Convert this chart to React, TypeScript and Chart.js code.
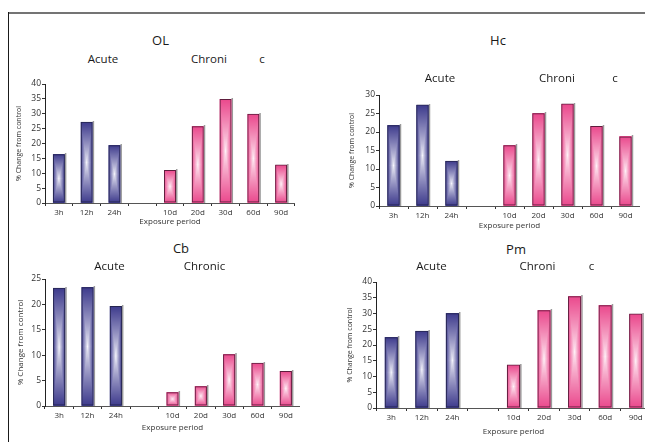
import React, { useEffect, useRef } from 'react';
import { Chart, registerables } from 'chart.js';
Chart.register(...registerables);

// ---- data ----
const acuteLabels = ['3h', '12h', '24h'];
const chronicLabels = ['10d', '20d', '30d', '60d', '90d'];

const olAcute = [16.4, 27.3, 19.4];
const olChronic = [11.1, 25.8, 35.0, 30.0, 12.9];
const hcAcute = [21.8, 27.4, 12.2];
const hcChronic = [16.4, 25.1, 27.7, 21.6, 18.8];
const cbAcute = [23.3, 23.4, 19.7];
const cbChronic = [2.7, 3.9, 10.2, 8.5, 6.9];
const pmAcute = [22.5, 24.5, 30.1];
const pmChronic = [13.8, 31.0, 35.5, 32.6, 30.0];

const yAxisTitle = '% Change from control';
const xAxisTitle = 'Exposure period';

const FONT = "'Open Sans', 'DejaVu Sans', sans-serif";

const BLUE = { edge: [61, 58, 140], center: [246, 246, 253], border: '#25254f' };
const PINK = { edge: [234, 72, 140], center: [255, 243, 248], border: '#5e1d3d' };

type PanelCfg = {
  name: string;
  acute: number[];
  chronic: number[];
  yMax: number;
  left: number; top: number; width: number; height: number;
  yw: number; xh: number; yTitleSize: number;
  texts: { t: string; x: number; y: number; size: number }[];
};

const panels: PanelCfg[] = [
  {
    name: 'OL', acute: olAcute, chronic: olChronic, yMax: 40,
    left: 15, top: 74, width: 280, height: 153, yw: 30, xh: 24, yTitleSize: 7,
    texts: [
      { t: 'OL', x: 160.5, y: 40, size: 13 },
      { t: 'Acute', x: 103, y: 59, size: 11.5 },
      { t: 'Chroni', x: 209, y: 59, size: 11.5 },
      { t: 'c', x: 262, y: 59, size: 11.5 },
    ],
  },
  {
    name: 'Hc', acute: hcAcute, chronic: hcChronic, yMax: 30,
    left: 348, top: 85, width: 292, height: 146, yw: 31, xh: 25, yTitleSize: 7,
    texts: [
      { t: 'Hc', x: 498, y: 40, size: 13 },
      { t: 'Acute', x: 440, y: 78, size: 11.5 },
      { t: 'Chroni', x: 557, y: 78, size: 11.5 },
      { t: 'c', x: 615, y: 78, size: 11.5 },
    ],
  },
  {
    name: 'Cb', acute: cbAcute, chronic: cbChronic, yMax: 25,
    left: 16, top: 269, width: 284, height: 164, yw: 29, xh: 27, yTitleSize: 8,
    texts: [
      { t: 'Cb', x: 181, y: 248, size: 13 },
      { t: 'Acute', x: 109.5, y: 265.5, size: 11.5 },
      { t: 'Chronic', x: 204.5, y: 265.5, size: 11.5 },
    ],
  },
  {
    name: 'Pm', acute: pmAcute, chronic: pmChronic, yMax: 40,
    left: 346, top: 272, width: 305, height: 165, yw: 30, xh: 29, yTitleSize: 7,
    texts: [
      { t: 'Pm', x: 516, y: 249, size: 13 },
      { t: 'Acute', x: 431.5, y: 266, size: 11.5 },
      { t: 'Chroni', x: 537.5, y: 266, size: 11.5 },
      { t: 'c', x: 591.5, y: 266, size: 11.5 },
    ],
  },
];

function mix(p: { edge: number[]; center: number[] }, t: number) {
  const k = Math.pow(Math.min(1, Math.max(0, t)), 0.8);
  const c = p.center.map((v, i) => Math.round(v + (p.edge[i] - v) * k));
  return `rgb(${c[0]},${c[1]},${c[2]})`;
}

const gradientBars = {
  id: 'gradientBars',
  beforeDatasetsDraw(chart: any) {
    const ctx = chart.ctx as CanvasRenderingContext2D;
    const meta = chart.getDatasetMeta(0);
    const ds = chart.data.datasets[0];
    const nAcute = acuteLabels.length;
    ctx.save();
    meta.data.forEach((el: any, i: number) => {
      const v = ds.data[i];
      if (v == null) return;
      const pal = i < nAcute ? BLUE : PINK;
      const { x, y, base, width } = el.getProps(['x', 'y', 'base', 'width'], true);
      const left = x - width / 2;
      const right = x + width / 2;
      const top = Math.round(Math.min(y, base));
      const bottom = Math.round(Math.max(y, base));
      // shadow
      ctx.fillStyle = '#9a9a9a';
      ctx.fillRect(right, top - 1, 1.5, bottom - top + 1);
      const h = bottom - top;
      const mid = (top + bottom) / 2;
      for (let r = 0; r < h; r++) {
        const cy = top + r + 0.5;
        const ty = Math.abs(cy - mid) / (h / 2);
        const g = ctx.createLinearGradient(left, 0, right, 0);
        g.addColorStop(0, mix(pal, 1));
        g.addColorStop(Math.max(0, 0.5 - 0.5 * ty), mix(pal, ty));
        g.addColorStop(Math.min(1, 0.5 + 0.5 * ty), mix(pal, ty));
        g.addColorStop(1, mix(pal, 1));
        ctx.fillStyle = g;
        ctx.fillRect(left, top + r, width, 1);
      }
    });
    ctx.restore();
  },
};

function Panel({ cfg }: { cfg: PanelCfg }) {
  const ref = useRef<HTMLCanvasElement | null>(null);
  useEffect(() => {
    if (!ref.current) return;
    const labels = [...acuteLabels, '', ...chronicLabels];
    const data = [...cfg.acute, null, ...cfg.chronic];
    const borderColors = labels.map((_, i) => (i < acuteLabels.length ? BLUE.border : PINK.border));
    const chart = new Chart(ref.current, {
      type: 'bar',
      data: {
        labels,
        datasets: [
          {
            data: data as any,
            backgroundColor: 'rgba(0,0,0,0)',
            borderColor: borderColors,
            borderWidth: 1,
            borderSkipped: false,
            barPercentage: 0.43,
            categoryPercentage: 1,
          },
        ],
      },
      options: {
        responsive: false,
        animation: false,
        devicePixelRatio: 1,
        layout: { padding: { top: 10, left: 0, right: 0, bottom: 0 } },
        plugins: {
          legend: { display: false },
          tooltip: { enabled: false },
          title: { display: false },
        },
        scales: {
          x: {
            grid: { display: true, drawOnChartArea: false, tickLength: 3, color: '#333', offset: true },
            border: { color: '#555', width: 1 },
            ticks: { font: { family: FONT, size: 8 }, color: '#333', padding: 2, maxRotation: 0, autoSkip: false },
            title: { display: true, text: xAxisTitle, font: { family: FONT, size: 8 }, color: '#333', padding: 0 },
            afterFit: (s: any) => { s.height = cfg.xh; },
          },
          y: {
            min: 0,
            max: cfg.yMax,
            ticks: { stepSize: 5, font: { family: FONT, size: 8.5 }, color: '#333', padding: 1 },
            grid: { drawOnChartArea: false, tickLength: 3, color: '#333' },
            border: { color: '#222', width: 1 },
            title: { display: true, text: yAxisTitle, font: { family: FONT, size: cfg.yTitleSize }, color: '#333', padding: 0 },
            afterFit: (s: any) => { s.width = cfg.yw; },
          },
        },
      },
      plugins: [gradientBars],
    });
    return () => chart.destroy();
  }, [cfg]);
  return (
    <>
      <canvas
        ref={ref}
        width={cfg.width}
        height={cfg.height}
        style={{ position: 'absolute', left: cfg.left, top: cfg.top, width: cfg.width, height: cfg.height }}
      />
      {cfg.texts.map((t, i) => (
        <div
          key={i}
          style={{
            position: 'absolute',
            left: t.x,
            top: t.y,
            transform: 'translate(-50%, -50%)',
            fontFamily: FONT,
            fontSize: t.size,
            lineHeight: 1,
            color: '#1a1a1a',
            whiteSpace: 'nowrap',
          }}
        >
          {t.t}
        </div>
      ))}
    </>
  );
}

export default function App() {
  return (
    <div
      style={{
        position: 'fixed',
        left: 0,
        top: 0,
        width: 645,
        height: 442,
        overflow: 'hidden',
        background: '#fff',
      }}
    >
      <div style={{ position: 'absolute', left: 8, top: 12, width: 637, height: 2, background: '#747474' }} />
      <div style={{ position: 'absolute', left: 8, top: 12, width: 1, height: 430, background: '#1a1a1a' }} />
      {panels.map((p) => (
        <Panel key={p.name} cfg={p} />
      ))}
    </div>
  );
}
